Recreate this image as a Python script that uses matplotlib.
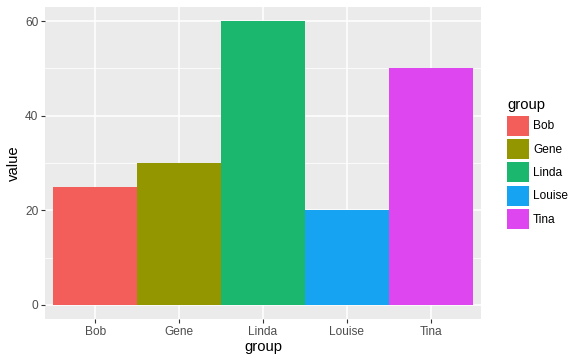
import matplotlib
matplotlib.use("Agg")
from matplotlib import pyplot as plt

groups = ["Bob", "Gene", "Linda", "Louise", "Tina"]
values = [25, 30, 60, 20, 50]
colors = ["#F35E5A", "#949600", "#1BB76E", "#16A3F2", "#DE47F0"]
y_ticks = [0, 20, 40, 60]
y_minor = [10, 30, 50]

plt.rcParams['font.family'] = ['Liberation Sans', 'DejaVu Sans']


def main():
    fig = plt.figure(figsize=(5.79, 3.63), dpi=100)
    ax = fig.add_axes([45 / 579, 44 / 363, 436 / 579, 312 / 363])
    ax.set_facecolor("#EBEBEB")

    # grid lines in ggplot style
    for y in y_ticks:
        ax.axhline(y, color="white", lw=1.1, zorder=1)
    for y in y_minor:
        ax.axhline(y, color="white", lw=0.55, zorder=1)
    for i in range(len(groups)):
        ax.axvline(i, color="white", lw=1.1, zorder=1)

    bars = ax.bar(range(len(groups)), values, width=1, color=colors, zorder=2)
    for bar, name in zip(bars, groups):
        bar.set_label(name)

    ax.set_xlim(-0.6, len(groups) - 0.4)
    ax.set_ylim(-3, 63)
    ax.set_xticks(range(len(groups)))
    ax.set_xticklabels(groups)
    ax.set_yticks(y_ticks)

    for spine in ax.spines.values():
        spine.set_visible(False)
    ax.tick_params(axis="both", colors="#333333", labelcolor="#4D4D4D",
                   labelsize=8.6, length=2.8, width=0.8, pad=2)

    ax.set_xlabel("group", fontsize=10.7, labelpad=2)
    ax.set_ylabel("value", fontsize=10.7, labelpad=3)

    leg = ax.legend(handles=list(bars), title="group", frameon=False,
                    loc="upper left", bbox_to_anchor=(499 / 579, 1 - 90 / 363),
                    bbox_transform=fig.transFigure, fontsize=8.6,
                    title_fontsize=10.7, handlelength=1.8, handleheight=2.2,
                    labelspacing=0.28, handletextpad=0.35, borderpad=0.2,
                    alignment="left")
    leg.get_title().set_color("black")

    fig.savefig("out.png", dpi=100)


if __name__ == "__main__":
    main()
